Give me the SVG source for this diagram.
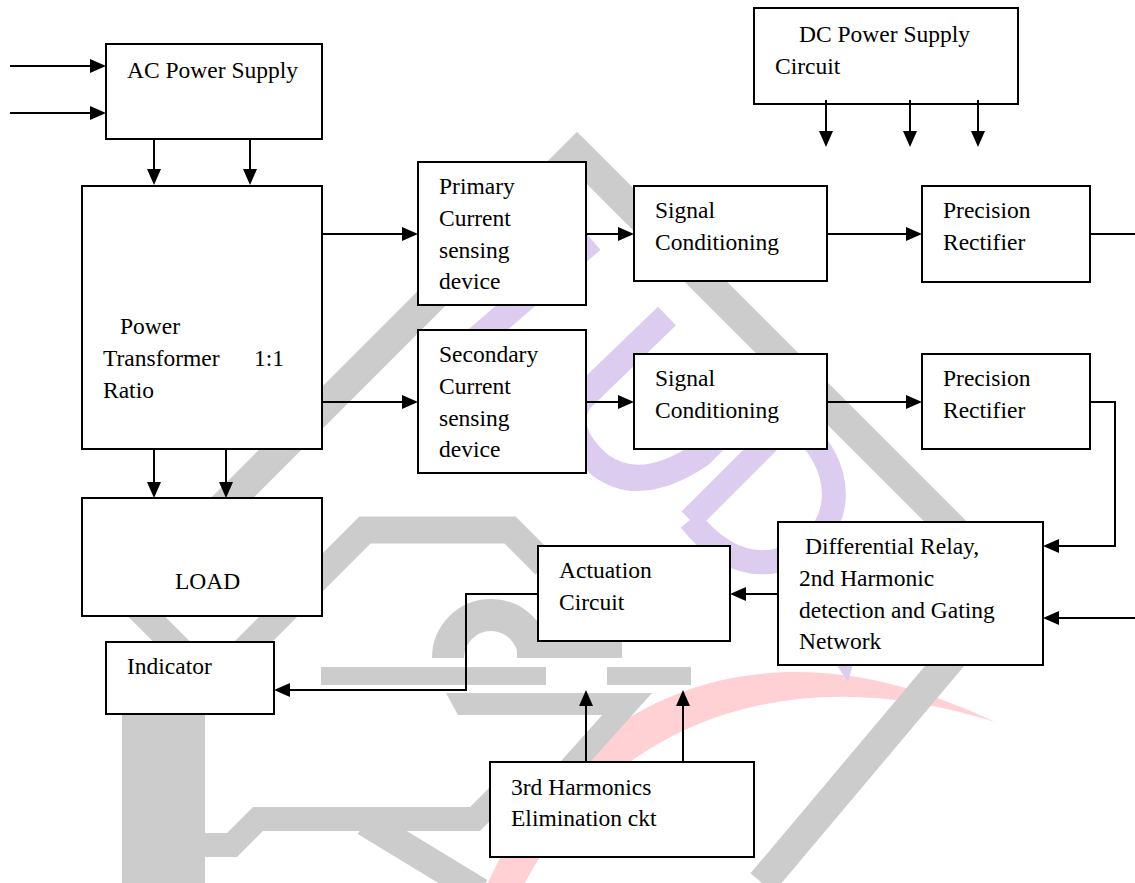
<svg xmlns="http://www.w3.org/2000/svg" width="1135" height="883" viewBox="0 0 1135 883">
<defs>
<style>
.box{fill:#fff;stroke:#000;stroke-width:2}
.t{font-family:"Liberation Serif","Times New Roman",serif;font-size:23.5px;fill:#000}
.c{fill:none;stroke:#000;stroke-width:2}
.a{marker-end:url(#ah)}
.wg{fill:none;stroke:#cccccc}
.wgf{fill:#cccccc}
.wp{fill:none;stroke:#dccdf0}
</style>
<marker id="ah" markerUnits="userSpaceOnUse" markerWidth="16" markerHeight="14" refX="8" refY="7" orient="auto"><path d="M0,0 L16,7 L0,14 Z" fill="#000"/></marker>
</defs>
<rect width="1135" height="883" fill="#fff"/>
<g id="watermark">
<path d="M488,883 C560,720 740,600 995,722 C770,650 600,740 525,883 Z" fill="#ffd0d4"/>
<polyline class="wg" stroke-width="30" points="125,605 577,153 1011,587 762,883"/>
<polyline class="wg" stroke-width="27" points="200,695 365,530 510,530 545,565"/>
<line class="wg" stroke-width="26" x1="120" y1="590" x2="190" y2="660"/>
<rect class="wgf" x="122" y="660" width="83" height="223"/>
<path class="wg" stroke-width="32" d="M448,658 A43,43 0 0 1 534,658"/>
<rect class="wgf" x="517" y="640" width="105" height="18"/>
<rect class="wgf" x="321" y="667" width="225" height="18"/>
<rect class="wgf" x="607" y="667" width="84" height="18"/>
<polygon class="wgf" points="446,693 627,693 627,715 458,715"/>
<polygon class="wgf" points="622,693 652,693 556,800 526,800"/>
<polyline class="wg" stroke-width="24" points="200,845 232,845 258,819 475,819 505,789"/>
<line class="wg" stroke-width="28" x1="365" y1="822" x2="480" y2="892"/>
<path class="wp" stroke-width="26" d="M470,345 L592,240"/>
<path class="wp" stroke-width="26" d="M667,316 L580,400 Q560,430 600,465 Q640,495 700,455 L745,410"/>
<path class="wp" stroke-width="24" d="M690,520 L790,420 C850,460 850,540 780,560 C740,570 710,545 690,520"/>
<polygon fill="#dccdf0" points="836,664 853,664 848,682"/>
</g>
<g id="ac-power-supply">
<rect class="box" x="106" y="44" width="216" height="95"/>
<text class="t" x="127" y="78">AC Power Supply</text>
</g>
<g id="power-transformer">
<rect class="box" x="82" y="186" width="240" height="263"/>
<text class="t" x="120" y="334">Power</text>
<text class="t" x="103" y="366">Transformer</text>
<text class="t" x="254" y="366">1:1</text>
<text class="t" x="103" y="398">Ratio</text>
</g>
<g id="load">
<rect class="box" x="82" y="498" width="240" height="118"/>
<text class="t" x="175" y="589">LOAD</text>
</g>
<g id="indicator">
<rect class="box" x="106" y="642" width="168" height="72"/>
<text class="t" x="127" y="674">Indicator</text>
</g>
<g id="primary-sensing">
<rect class="box" x="418" y="162" width="168" height="143"/>
<text class="t" x="439" y="194">Primary</text>
<text class="t" x="439" y="226">Current</text>
<text class="t" x="439" y="258">sensing</text>
<text class="t" x="439" y="289">device</text>
</g>
<g id="secondary-sensing">
<rect class="box" x="418" y="330" width="168" height="143"/>
<text class="t" x="439" y="362">Secondary</text>
<text class="t" x="439" y="394">Current</text>
<text class="t" x="439" y="426">sensing</text>
<text class="t" x="439" y="457">device</text>
</g>
<g id="signal-conditioning-1">
<rect class="box" x="634" y="186" width="193" height="95"/>
<text class="t" x="655" y="218">Signal</text>
<text class="t" x="655" y="250">Conditioning</text>
</g>
<g id="signal-conditioning-2">
<rect class="box" x="634" y="354" width="193" height="95"/>
<text class="t" x="655" y="386">Signal</text>
<text class="t" x="655" y="418">Conditioning</text>
</g>
<g id="precision-rectifier-1">
<rect class="box" x="922" y="186" width="168" height="96"/>
<text class="t" x="943" y="218">Precision</text>
<text class="t" x="943" y="250">Rectifier</text>
</g>
<g id="precision-rectifier-2">
<rect class="box" x="922" y="354" width="168" height="95"/>
<text class="t" x="943" y="386">Precision</text>
<text class="t" x="943" y="418">Rectifier</text>
</g>
<g id="dc-power-supply">
<rect class="box" x="754" y="8" width="264" height="96"/>
<text class="t" x="799" y="42">DC Power Supply</text>
<text class="t" x="775" y="74">Circuit</text>
</g>
<g id="differential-relay">
<rect class="box" x="778" y="522" width="265" height="143"/>
<text class="t" x="805" y="554">Differential Relay,</text>
<text class="t" x="799" y="586">2nd Harmonic</text>
<text class="t" x="799" y="618">detection and Gating</text>
<text class="t" x="799" y="649">Network</text>
</g>
<g id="actuation-circuit">
<rect class="box" x="538" y="546" width="192" height="95"/>
<text class="t" x="559" y="578">Actuation</text>
<text class="t" x="559" y="610">Circuit</text>
</g>
<g id="third-harmonics">
<rect class="box" x="490" y="762" width="264" height="95"/>
<text class="t" x="511" y="795">3rd Harmonics</text>
<text class="t" x="511" y="826">Elimination ckt</text>
</g>
<g id="connectors">
<line class="c a" x1="10" y1="66" x2="98" y2="66"/>
<line class="c a" x1="10" y1="113" x2="98" y2="113"/>
<line class="c a" x1="154" y1="140" x2="154" y2="177"/>
<line class="c a" x1="250" y1="140" x2="250" y2="177"/>
<line class="c a" x1="322" y1="234" x2="410" y2="234"/>
<line class="c a" x1="322" y1="402" x2="410" y2="402"/>
<line class="c a" x1="586" y1="234" x2="626" y2="234"/>
<line class="c a" x1="586" y1="402" x2="626" y2="402"/>
<line class="c a" x1="827" y1="234" x2="914" y2="234"/>
<line class="c a" x1="827" y1="402" x2="914" y2="402"/>
<line class="c" x1="1090" y1="234" x2="1135" y2="234"/>
<polyline class="c a" points="1090,402 1115,402 1115,546 1051,546"/>
<line class="c a" x1="1135" y1="618" x2="1051" y2="618"/>
<line class="c a" x1="778" y1="594" x2="738" y2="594"/>
<polyline class="c a" points="538,594 466,594 466,690 282,690"/>
<line class="c a" x1="154" y1="449" x2="154" y2="490"/>
<line class="c a" x1="226" y1="449" x2="226" y2="490"/>
<line class="c a" x1="826" y1="100" x2="826" y2="139"/>
<line class="c a" x1="910" y1="100" x2="910" y2="139"/>
<line class="c a" x1="978" y1="100" x2="978" y2="139"/>
<line class="c a" x1="586" y1="762" x2="586" y2="698"/>
<line class="c a" x1="683" y1="762" x2="683" y2="698"/>
</g>
</svg>
